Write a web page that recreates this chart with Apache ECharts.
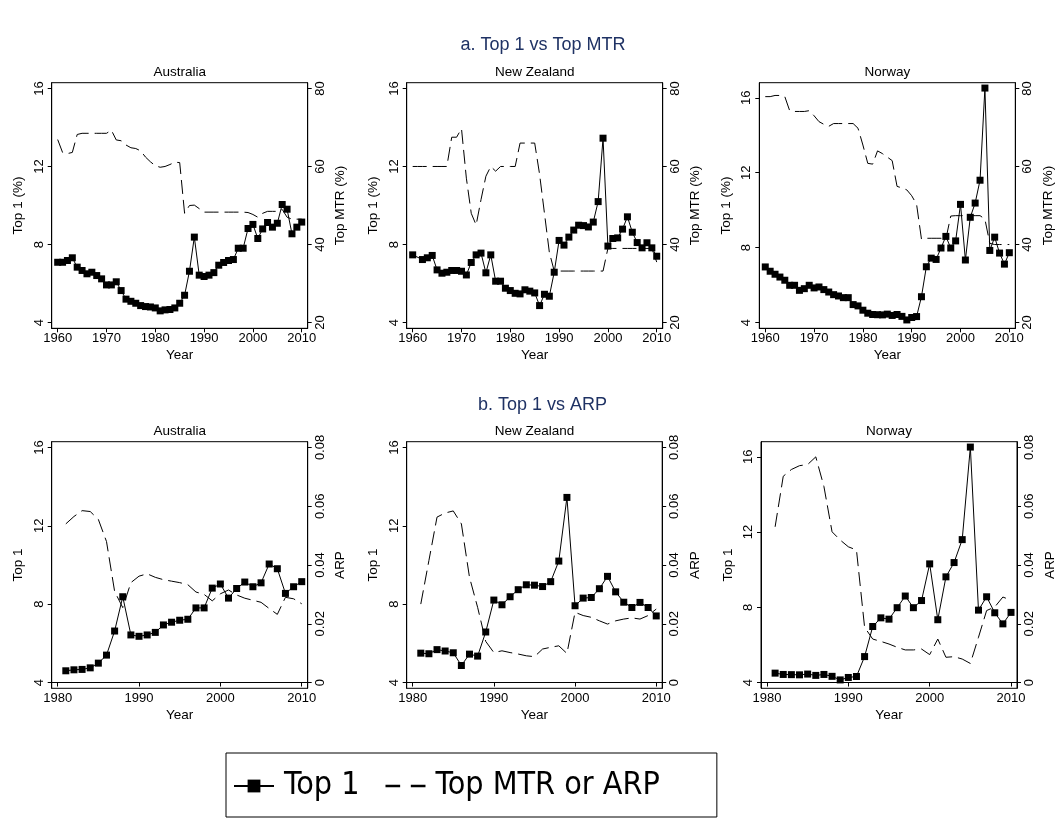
<!DOCTYPE html>
<html>
<head>
<meta charset="utf-8">
<script src="https://cdn.jsdelivr.net/npm/echarts@6/dist/echarts.min.js"></script>
<style>
html, body { margin: 0; padding: 0; background: #fff; }
#chart { width: 1059px; height: 818px; }
</style>
</head>
<body>
<div id="chart"></div>
<script>
// years
const yearsLong = [1960, 1961, 1962, 1963, 1964, 1965, 1966, 1967, 1968, 1969,
  1970, 1971, 1972, 1973, 1974, 1975, 1976, 1977, 1978, 1979,
  1980, 1981, 1982, 1983, 1984, 1985, 1986, 1987, 1988, 1989,
  1990, 1991, 1992, 1993, 1994, 1995, 1996, 1997, 1998, 1999,
  2000, 2001, 2002, 2003, 2004, 2005, 2006, 2007, 2008, 2009, 2010];
const yearsShort = [1981, 1982, 1983, 1984, 1985, 1986, 1987, 1988, 1989, 1990,
  1991, 1992, 1993, 1994, 1995, 1996, 1997, 1998, 1999, 2000,
  2001, 2002, 2003, 2004, 2005, 2006, 2007, 2008, 2009, 2010];

// Top 1 income share (%), 1960-2010
const top1Australia = [7.09, 7.09, 7.18, 7.32, 6.84, 6.67, 6.50, 6.58, 6.41, 6.24,
  5.93, 5.93, 6.09, 5.64, 5.20, 5.09, 4.99, 4.87, 4.82, 4.80,
  4.75, 4.60, 4.65, 4.67, 4.75, 4.99, 5.40, 6.63, 8.38, 6.43,
  6.36, 6.43, 6.56, 6.94, 7.08, 7.18, 7.23, 7.81, 7.81, 8.82,
  9.03, 8.31, 8.80, 9.13, 8.89, 9.09, 10.05, 9.81, 8.55, 8.89, 9.15];
const top1NewZealand = [7.47, null, 7.23, 7.32, 7.44, 6.70, 6.53, 6.58, 6.67, 6.67,
  6.63, 6.44, 7.08, 7.47, 7.56, 6.55, 7.47, 6.12, 6.12, 5.76,
  5.64, 5.50, 5.47, 5.68, 5.61, 5.52, 4.87, 5.45, 5.35, 6.58,
  8.21, 7.97, 8.38, 8.74, 8.99, 8.97, 8.90, 9.15, 10.20, 13.45,
  7.92, 8.31, 8.34, 8.79, 9.42, 8.63, 8.10, 7.83, 8.09, 7.83, 7.40];
const top1Norway = [6.97, 6.74, 6.58, 6.43, 6.26, 5.99, 5.99, 5.72, 5.81, 5.99,
  5.85, 5.90, 5.76, 5.63, 5.49, 5.42, 5.33, 5.33, 4.96, 4.89,
  4.66, 4.50, 4.43, 4.42, 4.41, 4.45, 4.38, 4.43, 4.33, 4.14,
  4.27, 4.32, 5.38, 6.98, 7.44, 7.37, 7.98, 8.60, 7.98, 8.36,
  10.31, 7.34, 9.62, 10.38, 11.60, 16.52, 7.85, 8.56, 7.71, 7.12, 7.73];

// top marginal tax rate (%), 1960-2010
const mtrAustralia = [66.9, 63.6, 63.3, 63.6, 68.2, 68.5, 68.5, 68.5, 68.5, 68.5,
  68.5, 69.3, 66.8, 66.6, 65.5, 64.8, 64.6, 64.0, 62.4, 61.2,
  60.2, 59.8, 60.0, 60.5, 61.1, 61.0, 48.0, 50.0, 50.1, 49.2,
  48.3, 48.3, 48.3, 48.3, 48.3, 48.3, 48.3, 48.3, 48.3, 48.2,
  47.7, 47.0, 48.0, 48.5, 48.5, 48.5, 49.0, 47.0, 46.5, 46.5, 46.5];
const mtrNewZealand = [60, 60, 60, 60, 60, 60, 60, 60, 67.5, 67.5,
  69.7, 57.0, 48.0, 45.0, 51.5, 57.5, 60.0, 58.8, 60.0, 60.0,
  60.0, 60.0, 66.0, 66.0, 66.0, 66.0, 58.0, 48.0, 38.0, 33.2,
  33.2, 33.2, 33.2, 33.2, 33.2, 33.2, 33.2, 33.2, 33.2, 33.2,
  39.0, 39.0, 39.0, 39.0, 39.0, 39.0, 39.0, 39.0, 39.0, 39.0, 35.5];
const mtrNorway = [77.9, 77.9, 78.2, 78.2, 77.9, 74.3, 74.1, 74.1, 74.1, 74.3,
  73.0, 71.5, 70.8, 70.3, 71.0, 71.0, 71.0, 71.0, 71.0, 69.8,
  65.5, 60.8, 60.6, 64.0, 63.3, 62.4, 61.5, 54.9, 54.5, 54.0,
  52.5, 50.3, 41.4, 41.6, 41.6, 41.6, 41.6, 41.4, 47.3, 47.4,
  47.4, 47.4, 47.4, 47.4, 47.4, 46.5, 40.3, 40.0, 40.0, 40.0, 40.0];

// ARP, 1981-2010
const arpAustralia = [0.054, 0.0565, 0.0585, 0.0582, 0.0555, 0.048, 0.031, 0.0255, 0.034, 0.0362,
  0.037, 0.0358, 0.035, 0.0345, 0.034, 0.0333, 0.0308, 0.030, 0.0278, 0.0302,
  0.0315, 0.0298, 0.0287, 0.028, 0.0273, 0.0252, 0.0232, 0.029, 0.0285, 0.0268];
const arpNewZealand = [0.0267, 0.0415, 0.0563, 0.0577, 0.0584, 0.054, 0.0358, 0.0256, 0.014, 0.0102,
  0.0108, 0.0102, 0.0097, 0.0091, 0.0088, 0.0114, 0.012, 0.0125, 0.0099, 0.0239,
  0.0228, 0.0222, 0.021, 0.0199, 0.021, 0.0216, 0.022, 0.0216, 0.0228, 0.025];
const arpNorway = [0.053, 0.0702, 0.0725, 0.0738, 0.0742, 0.0768, 0.0667, 0.0513, 0.0485, 0.0462,
  0.0451, 0.0188, 0.0148, 0.014, 0.0131, 0.012, 0.0111, 0.0111, 0.0114, 0.0095,
  0.0148, 0.0086, 0.0088, 0.008, 0.0065, 0.0154, 0.0245, 0.0257, 0.0291, 0.028];

// tick labels
const top1Ticks = [4, 8, 12, 16];
const mtrTicks = [20, 40, 60, 80];
const arpTicks = [0, 0.02, 0.04, 0.06, 0.08];
const yearTicksLong = [1960, 1970, 1980, 1990, 2000, 2010];
const yearTicksShort = [1980, 1990, 2000, 2010];

const FONT = "'Liberation Sans', Arial, sans-serif";
const NAVY = '#1f3264';
const PAD = 0.0245; // plot region margin, as a share of the axis range

const padRange = (lo, hi) => {
  const d = (hi - lo) * PAD;
  return [lo - d, hi + d];
};

const pairs = (years, values) => years
  .map((y, i) => [y, values[i]])
  .filter((d) => d[1] !== null);

const panels = [
  { name: 'Australia', box: [51.7, 82.7, 256, 245.6], years: yearsLong, xTicks: yearTicksLong, x: [1960, 2010],
    top1: top1Australia, other: mtrAustralia, topHi: 16, right: 'mtr' },
  { name: 'New Zealand', box: [406.7, 82.7, 256, 245.6], years: yearsLong, xTicks: yearTicksLong, x: [1960, 2010],
    top1: top1NewZealand, other: mtrNewZealand, topHi: 16, right: 'mtr' },
  { name: 'Norway', box: [759.3, 82.7, 256, 245.6], years: yearsLong, xTicks: yearTicksLong, x: [1960, 2010],
    top1: top1Norway, other: mtrNorway, topHi: 16.5, right: 'mtr' },
  { name: 'Australia', box: [51.7, 441.7, 256, 246.6], years: yearsShort, xTicks: yearTicksShort, x: [1980, 2010],
    top1: top1Australia.slice(21), other: arpAustralia, topHi: 16, right: 'arp' },
  { name: 'New Zealand', box: [406.7, 441.7, 255.5, 246.6], years: yearsShort, xTicks: yearTicksShort, x: [1980, 2010],
    top1: top1NewZealand.slice(21), other: arpNewZealand, topHi: 16, right: 'arp' },
  { name: 'Norway', box: [761, 441.7, 256, 246.6], years: yearsShort, xTicks: yearTicksShort, x: [1980, 2010],
    top1: top1Norway.slice(21), other: arpNorway, topHi: 16.5, right: 'arp' },
];

const axisLine = { show: true, lineStyle: { color: '#000', width: 1 } };
const labelStyle = { color: '#000', fontSize: 13, fontFamily: FONT };
const nameStyle = { color: '#000', fontSize: 13.5, fontFamily: FONT };
const plain = (v) => String(v);

const grids = [];
const xAxes = [];
const yAxes = [];
const series = [];
const titles = [
  { text: 'a. Top 1 vs Top MTR', left: 543, top: 36, textAlign: 'center', padding: 0,
    textStyle: { fontSize: 18, fontWeight: 'normal', color: NAVY, fontFamily: FONT } },
  { text: 'b. Top 1 vs ARP', left: 542.5, top: 396, textAlign: 'center', padding: 0,
    textStyle: { fontSize: 18, fontWeight: 'normal', color: NAVY, fontFamily: FONT } },
];

panels.forEach((p, i) => {
  const [left, top, width, height] = p.box;
  grids.push({ left, top, width, height, show: true, borderColor: '#000', borderWidth: 1, backgroundColor: '#fff' });
  titles.push({ text: p.name, left: left + width / 2, top: top - 17.5, textAlign: 'center', padding: 0,
    textStyle: { fontSize: 13.5, fontWeight: 'normal', color: '#000', fontFamily: FONT } });

  const [xMin, xMax] = padRange(p.x[0], p.x[1]);
  xAxes.push({
    type: 'value', gridIndex: i, min: xMin, max: xMax,
    name: 'Year', nameLocation: 'middle', nameGap: 20, nameTextStyle: nameStyle,
    axisLine, splitLine: { show: false },
    axisTick: { show: true, length: 4, customValues: p.xTicks, lineStyle: { color: '#000' } },
    axisLabel: { customValues: p.xTicks, margin: 4, formatter: plain, ...labelStyle },
  });

  const [lMin, lMax] = padRange(4, p.topHi);
  yAxes.push({
    type: 'value', gridIndex: i, position: 'left', min: lMin, max: lMax,
    name: p.right === 'mtr' ? 'Top 1 (%)' : 'Top 1', nameLocation: 'middle', nameRotate: 90, nameGap: 26,
    nameTextStyle: nameStyle, axisLine, splitLine: { show: false },
    axisTick: { show: true, length: 4, customValues: top1Ticks, lineStyle: { color: '#000' } },
    axisLabel: { customValues: top1Ticks, rotate: 90, margin: 6, formatter: plain, ...labelStyle },
  });

  const rTicks = p.right === 'mtr' ? mtrTicks : arpTicks;
  const [rMin, rMax] = padRange(rTicks[0], rTicks[rTicks.length - 1]);
  yAxes.push({
    type: 'value', gridIndex: i, position: 'right', min: rMin, max: rMax,
    name: p.right === 'mtr' ? 'Top MTR (%)' : 'ARP', nameLocation: 'middle', nameRotate: 90, nameGap: 26,
    nameTextStyle: nameStyle, axisLine, splitLine: { show: false },
    axisTick: { show: true, length: 4, customValues: rTicks, lineStyle: { color: '#000' } },
    axisLabel: { customValues: rTicks, rotate: 90, margin: 6, formatter: plain, ...labelStyle },
  });

  series.push({
    name: 'Top 1', type: 'line', xAxisIndex: i, yAxisIndex: i * 2,
    data: pairs(p.years, p.top1),
    symbol: 'rect', symbolSize: 7, showAllSymbol: true,
    lineStyle: { color: '#000', width: 1 }, itemStyle: { color: '#000' },
    z: 3,
  });
  series.push({
    name: 'Top MTR or ARP', type: 'line', xAxisIndex: i, yAxisIndex: i * 2 + 1,
    data: pairs(p.years, p.other),
    symbol: 'none',
    lineStyle: { color: '#000', width: 1, type: [14, 6] }, itemStyle: { color: '#000' },
    z: 2,
  });
});

const chart = echarts.init(document.getElementById('chart'));
chart.setOption({
  animation: false,
  backgroundColor: '#fff',
  title: titles,
  grid: grids,
  xAxis: xAxes,
  yAxis: yAxes,
  legend: {
    left: 226, top: 753,
    padding: [17, 57, 15, 7],
    borderColor: '#000', borderWidth: 1,
    itemWidth: 40, itemHeight: 16, itemGap: 26,
    lineStyle: { width: 2 },
    textStyle: { fontSize: 32, color: '#000', fontFamily: "'Liberation Sans Narrow', 'DejaVu Sans Condensed', 'Liberation Sans', sans-serif", padding: [0, 0, 0, 5] },
    data: [
      { name: 'Top 1' },
      { name: 'Top MTR or ARP', icon: 'path://M0,0h11v2h-11z M19,0h11v2h-11z' },
    ],
  },
  series,
});
</script>
</body>
</html>
